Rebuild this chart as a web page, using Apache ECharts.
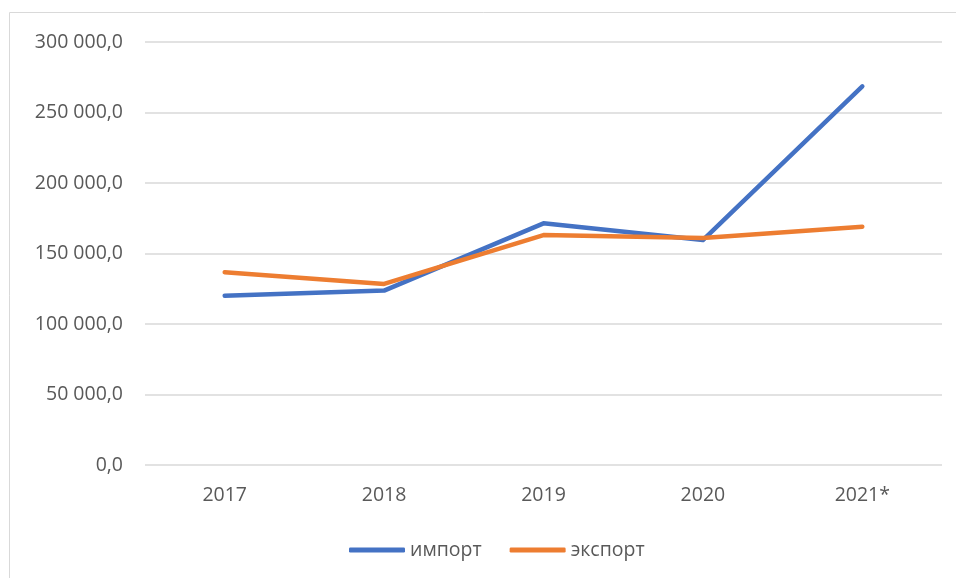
<!DOCTYPE html>
<html><head><meta charset="utf-8">
<script src="https://cdn.jsdelivr.net/npm/echarts@6/dist/echarts.min.js"></script>
<style>html,body{margin:0;padding:0;background:#fff}#c{width:956px;height:578px}</style>
</head><body><div id="c"></div>
<script>
const categories = ['2017', '2018', '2019', '2020', '2021*'];
const importValues = [120000, 123700, 171400, 159500, 268600];
const exportValues = [136700, 128400, 163100, 161000, 169000];
const seriesNames = ['импорт', 'экспорт'];

const chart = echarts.init(document.getElementById('c'));
const fontFamily = '"Open Sans", Lato, sans-serif';
function fmt(v){
  const s = Math.round(v).toString().replace(/\B(?=(\d{3})+(?!\d))/g, ' ');
  return s + ',0';
}
chart.setOption({
  animation: false,
  textStyle: {fontFamily: fontFamily},
  graphic: [{
    type: 'rect', shape: {x: 9.5, y: 12.5, width: 960, height: 600},
    style: {fill: 'none', stroke: '#d9d9d9', lineWidth: 1}, silent: true
  }],
  grid: {left: 145, right: 14, top: 42, bottom: 113, containLabel: false},
  legend: {
    bottom: 13, left: 344, itemWidth: 56, itemHeight: 5, itemGap: 28,
    textStyle: {color: '#595959', fontSize: 19.5, fontFamily: fontFamily},
    data: seriesNames.map(n => ({name: n, icon: 'roundRect'}))
  },
  xAxis: {
    type: 'category', data: categories, boundaryGap: true,
    axisLine: {show: false}, axisTick: {show: false},
    axisLabel: {color: '#595959', fontSize: 19.5, margin: 20}
  },
  yAxis: {
    type: 'value', min: 0, max: 300000, interval: 50000,
    axisLine: {show: false}, axisTick: {show: false},
    axisLabel: {color: '#595959', fontSize: 19.5, margin: 22, formatter: fmt},
    splitLine: {lineStyle: {color: '#d9d9d9', width: 1.5}}
  },
  series: [
    {name: seriesNames[0], type: 'line', data: importValues, showSymbol: false,
     lineStyle: {color: '#4472C4', width: 4.5, cap: 'round', join: 'round'}, itemStyle: {color: '#4472C4'}},
    {name: seriesNames[1], type: 'line', data: exportValues, showSymbol: false,
     lineStyle: {color: '#ED7D31', width: 4.5, cap: 'round', join: 'round'}, itemStyle: {color: '#ED7D31'}}
  ]
});
</script></body></html>
